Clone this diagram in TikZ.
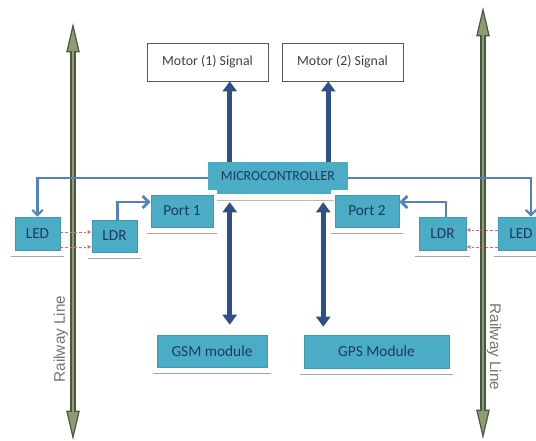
\documentclass[tikz,border=0pt]{standalone}
\usepackage{fontspec}
\setmainfont{Carlito}
\newfontfamily\railfont{Liberation Sans}
\usetikzlibrary{arrows.meta}
\definecolor{boxfill}{HTML}{4BACC6}
\definecolor{boxedge}{HTML}{3E9AB4}
\definecolor{boxtext}{HTML}{1F3A5C}
\definecolor{navy}{HTML}{2E5089}
\definecolor{steel}{HTML}{5283C0}
\definecolor{raildark}{HTML}{4B5644}
\definecolor{railfill}{HTML}{8E9C70}
\definecolor{dashred}{HTML}{E06666}
\definecolor{ulgray}{HTML}{A6A6A6}
\definecolor{ulbeige}{HTML}{C9B6A6}
\tikzset{
  bx/.style 2 args={minimum width=#1*0.75pt, minimum height=#2*0.75pt, inner sep=0pt},
  cbox/.style={fill=boxfill, draw=boxedge, line width=0.4pt, text=boxtext, font=\fontsize{11.5pt}{12pt}\selectfont},
  mbox/.style={fill=white, draw=black!65, line width=0.6pt, text=black!75, font=\fontsize{10.4pt}{12pt}\selectfont},
  bigarrow/.style={draw=navy, line width=3.9pt, -{Triangle[length=7.5pt,width=10.5pt]}},
  bigdouble/.style={draw=navy, line width=3.9pt, {Triangle[length=7.5pt,width=10.5pt]}-{Triangle[length=7.5pt,width=10.5pt]}},
  thinlink/.style={draw=steel, line width=1.6pt, -{Straight Barb[length=4pt,width=8pt,line width=1.6pt]}},
  ldrlink/.style={draw=steel, line width=2.2pt, -{Straight Barb[length=4.5pt,width=9pt,line width=2.2pt]}},
  redlink/.style={draw=dashred, line width=0.6pt, dash pattern=on 2pt off 1.5pt, -{Latex[length=3pt,width=3pt]}},
  railouter/.style={draw=raildark, line width=5pt, {Triangle[length=22pt,width=10pt,fill=railfill,line width=0.9pt]}-{Triangle[length=22pt,width=10pt,fill=railfill,line width=0.9pt]}},
  railinner/.style={draw=railfill, line width=2.2pt, shorten <=21pt, shorten >=21pt},
  raillabel/.style={text=black!55, font=\railfont\fontsize{11.5pt}{12pt}\selectfont, inner sep=0pt},
  uline/.style={draw=ulgray, line width=1.1pt},
}
\newcommand{\underbox}[1]{\draw[uline] ([xshift=-3pt,yshift=-4.8pt]#1.south west) -- ([xshift=3pt,yshift=-4.8pt]#1.south east);}
\begin{document}
\begin{tikzpicture}[x=0.75pt,y=-0.75pt]
\useasboundingbox (0,0) rectangle (536,441);

% railway lines
\coordinate (rLtop) at (73,23);
\coordinate (rLbot) at (73,440);
\coordinate (rRtop) at (483,7);
\coordinate (rRbot) at (483,439);

% boxes
\node[mbox, bx={121}{38}] (mot1) at (207.5,62) {Motor (1) Signal};
\node[mbox, bx={121}{38}] (mot2) at (342.5,62) {Motor (2) Signal};

\fill[boxfill] (217,181) rectangle (331,194);
\node[cbox, draw=none, bx={140}{28}, font=\fontsize{10.4pt}{12pt}\selectfont] (mcu) at (278,176) {MICROCONTROLLER};
\draw[ulbeige, line width=1.1pt] ([xshift=6.75pt,yshift=-7.5pt]mcu.south west) -- ([xshift=-11pt,yshift=-7.5pt]mcu.south east);

\node[cbox, bx={62}{32}] (port1) at (182,211) {Port 1};
\node[cbox, bx={64}{32}] (port2) at (367,211) {Port 2};
\node[cbox, bx={45}{33}] (ledL) at (37.5,233.5) {LED};
\node[cbox, bx={45}{32}] (ldrL) at (114.5,236) {LDR};
\node[cbox, bx={47}{33}] (ldrR) at (442.5,233.5) {LDR};
\node[cbox, bx={46}{33}] (ledR) at (521,233.5) {LED};
\node[cbox, bx={110}{32}] (gsm) at (212,351) {GSM module};
\node[cbox, bx={145}{33}] (gps) at (376.5,351.5) {GPS Module};

\underbox{port1}
\underbox{port2}
\underbox{ledL}
\underbox{ldrL}
\underbox{ldrR}
\underbox{ledR}
\underbox{gsm}
\underbox{gps}

% railway arrows
\draw[railouter] (rLtop) -- (rLbot);
\draw[railinner] (rLtop) -- (rLbot);
\draw[railouter] (rRtop) -- (rRbot);
\draw[railinner] (rRtop) -- (rRbot);
\node[raillabel, rotate=90] (rl1) at (61,339) {Railway Line};
\node[raillabel, rotate=-90] (rl2) at (494,347) {Railway Line};

% microcontroller to motors
\draw[bigarrow] ([xshift=16.5pt]mcu.north west) -- ([xshift=16.5pt]mcu.north west |- mot1.south);
\draw[bigarrow] ([xshift=-15pt]mcu.north east) -- ([xshift=-15pt]mcu.north east |- mot2.south);

% microcontroller to GSM / GPS
\draw[bigdouble, shorten <=9pt, shorten >=7.5pt] ([xshift=16.5pt]mcu.south west) -- ([xshift=16.5pt]mcu.south west |- gsm.north);
\draw[bigdouble, shorten <=9pt, shorten >=6pt] ([xshift=-18.75pt]mcu.south east) -- ([xshift=-18.75pt]mcu.south east |- gps.north);

% microcontroller to LEDs
\draw[thinlink] ([yshift=-1.5pt]mcu.west) -| (ledL.north);
\draw[thinlink] ([yshift=-1.5pt]mcu.east) -| ([xshift=7.5pt]ledR.north);

% LDR to ports
\draw[ldrlink] ([xshift=2pt]ldrL.north) |- ([yshift=6.75pt]port1.west);
\draw[ldrlink] ([xshift=2.6pt]ldrR.north) |- ([yshift=6.75pt]port2.east);

% light beams
\draw[redlink] ([yshift=1.1pt]ledL.east) -- ([yshift=1.1pt]ledL.east -| ldrL.west);
\draw[redlink] ([yshift=-10.1pt]ledL.east) -- ([yshift=-10.1pt]ledL.east -| ldrL.west);
\draw[redlink] ([yshift=2.6pt]ledR.west) -- ([yshift=2.6pt]ledR.west -| ldrR.east);
\draw[redlink] ([yshift=-10.1pt]ledR.west) -- ([yshift=-10.1pt]ledR.west -| ldrR.east);
\end{tikzpicture}
\end{document}
